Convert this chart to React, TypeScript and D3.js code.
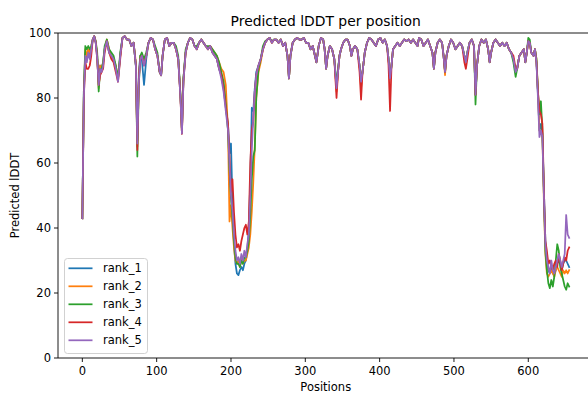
import React from "react";
import * as d3 from "d3";

const positions = [
  0, 2, 4, 6, 8, 10, 12, 14, 16, 18,
  20, 22, 24, 26, 28, 30, 33, 36, 39, 42,
  45, 48, 51, 54, 57, 60, 63, 66, 69, 72,
  74, 76, 78, 80, 83, 86, 89, 92, 95, 98,
  101, 104, 106, 108, 111, 114, 117, 120, 123, 126,
  129, 132, 134, 136, 139, 142, 145, 148, 151, 154,
  157, 160, 163, 166, 169, 172, 175, 178, 181, 184,
  187, 190, 193, 196, 198, 200, 202, 204, 206, 208,
  210, 212, 214, 216, 218, 220, 222, 224, 226, 228,
  230, 232, 234, 237, 240, 243, 246, 249, 252, 255,
  258, 261, 264, 267, 270, 273, 276, 278, 280, 283,
  286, 289, 292, 295, 298, 301, 304, 307, 310, 313,
  315, 318, 321, 324, 326, 328, 330, 333, 336, 339,
  342, 344, 346, 348, 351, 354, 357, 360, 362, 364,
  367, 370, 373, 375, 377, 380, 383, 386, 389, 392,
  395, 398, 401, 404, 407, 410, 412, 414, 416, 418,
  421, 424, 427, 430, 433, 436, 439, 442, 445, 448,
  451, 453, 456, 459, 462, 465, 468, 471, 473, 475,
  478, 481, 484, 486, 488, 490, 493, 496, 499, 502,
  505, 508, 511, 514, 516, 518, 521, 524, 527, 529,
  531, 534, 537, 540, 543, 546, 548, 550, 553, 556,
  559, 562, 565, 568, 571, 574, 577, 580, 583, 585,
  588, 591, 594, 596, 598, 600, 602, 604, 607, 609,
  611, 613, 615, 617, 619, 621, 623, 625, 627, 629,
  631, 633, 635, 637, 639, 641, 643, 645, 647, 649,
  651, 653, 655,
];

const rank_1 = [
  43, 82, 94, 92, 95, 93, 95, 98, 99, 97,
  93, 85, 90, 89, 91, 95, 97.5, 94, 93, 92,
  89, 86, 93, 98.5, 99, 98, 98, 96, 97, 90,
  67, 88, 93, 92, 84, 92, 97, 98.5, 98, 95,
  93, 88, 87, 93, 98, 98.5, 96, 97, 97, 95,
  92, 81, 70, 86, 94, 97, 98.5, 98, 96, 95,
  97, 98, 97, 96, 95, 96, 94, 93, 92, 89,
  87, 84, 78, 72, 63, 66, 48, 35, 29, 26,
  25.5, 27, 28, 27, 29, 30, 33, 40, 55, 77,
  76, 83, 88, 90, 92, 95, 97, 98, 98.5, 97,
  98, 98, 97, 98, 96, 97, 93, 86, 93, 97,
  98, 98.5, 98, 98, 98.5, 97, 97, 95, 96, 93,
  91, 96, 98.5, 98, 95, 89, 93, 96, 95, 92,
  83, 88, 93, 95, 97, 98, 98, 96, 93, 95,
  96, 95, 90, 85, 88, 94, 97, 98.5, 98, 97,
  96, 98, 98.5, 97, 98, 96, 92, 86, 90, 95,
  96, 97, 96, 97, 98, 97.5, 98, 97, 98, 97,
  96, 98.5, 98, 96, 97, 98, 96, 94, 89, 94,
  97, 98, 97, 93, 88, 93, 96, 98, 97, 95,
  96, 97, 96, 93, 91, 94, 97, 98, 96, 81,
  90, 96, 98, 97, 98, 95, 91, 94, 97, 98,
  97, 96, 97, 96, 97, 95, 94, 92, 88, 89,
  93, 94, 95, 91, 94, 97.5, 97, 94, 93, 95,
  91, 81, 70, 72, 69, 52, 36, 30, 27, 26,
  28, 26, 26, 27, 29, 30, 29, 27, 29, 30,
  30, 29, 28,
];

const rank_2 = [
  43, 81, 95, 93, 95, 94, 96, 98, 99, 97.5,
  93, 83, 90, 89, 91, 95, 98, 95, 93, 92,
  90, 86, 93, 98.5, 99, 98, 98, 96, 97, 91,
  65, 86, 93, 93, 91, 93, 97, 98.5, 98, 95,
  93, 88, 87, 93, 98, 98.5, 96, 97, 97, 95,
  92, 81, 69, 86, 94, 97, 98.5, 98, 96, 95,
  97, 98, 97, 96, 95, 96, 95, 94, 93, 91,
  89, 88, 84, 70, 42, 47, 40, 34, 30, 29,
  30, 28, 31, 29, 30, 30, 32, 34, 38, 45,
  54, 65, 80, 88, 91, 95, 97, 98, 98.5, 97,
  98, 98, 97, 98, 96, 97, 93, 86, 93, 97,
  98, 98.5, 98, 98, 98.5, 97, 97, 95, 96, 93,
  91, 96, 98.5, 98, 95, 89, 93, 96, 95, 92,
  82, 88, 93, 95, 97, 98, 98, 96, 93, 95,
  96, 95, 90, 83, 88, 94, 97, 98.5, 98, 97,
  96, 98, 98.5, 97, 98, 96, 92, 86, 90, 95,
  96, 97, 96, 97, 98, 97.5, 98, 97, 98, 97,
  96, 98.5, 98, 96, 97, 98, 96, 94, 89, 94,
  97, 98, 97, 93, 87, 93, 96, 98, 97, 95,
  96, 97, 96, 93, 91, 94, 97, 98, 96, 81,
  90, 96, 98, 97, 98, 95, 91, 94, 97, 98,
  97, 96, 97, 96, 97, 95, 94, 92, 88, 89,
  93, 94, 95, 91, 94, 97.5, 97, 94, 93, 95,
  92, 82, 70, 70, 68, 48, 32, 26, 25, 26,
  27, 26, 25, 27, 28, 27, 26, 25, 27, 26,
  27, 26, 27,
];

const rank_3 = [
  43, 82, 96, 95, 96, 95, 96, 98, 99, 97.5,
  94, 82, 89, 89, 91, 96, 98, 95, 94, 93,
  90, 86, 94, 98.5, 99, 98, 98, 96, 97, 90,
  62, 84, 93, 94, 92, 94, 97, 98.5, 98, 96,
  94, 88, 87, 93, 98, 98.5, 96, 97, 97, 96,
  93, 81, 70, 86, 95, 97, 98.5, 98, 96, 96,
  97, 98, 97, 96, 96, 96, 95, 94, 93, 91,
  88, 85, 78, 70, 58, 49, 43, 36, 31, 29,
  29, 28, 30, 29, 31, 31, 33, 36, 44, 55,
  62, 64, 80, 89, 92, 96, 97.5, 98, 98.5, 97.5,
  98, 98, 97, 98, 96, 97, 93, 86, 93, 97,
  98, 98.5, 98, 98, 98.5, 97, 97, 95, 96, 93,
  91, 96, 98.5, 98, 95, 89, 93, 96, 95, 92,
  84, 89, 93, 95, 97, 98, 98, 96, 93, 95,
  96, 95, 90, 85, 88, 94, 97, 98.5, 98, 97,
  96, 98, 98.5, 97, 98, 96, 92, 86, 90, 95,
  96, 97, 96, 97, 98, 97.5, 98, 97, 98, 97,
  96, 98.5, 98, 96, 97, 98, 96, 94, 89, 94,
  97, 98, 97, 93, 88, 93, 96, 98, 97, 95,
  96, 97, 96, 93, 91, 94, 97, 98, 96, 78,
  90, 96, 98, 97, 98, 95, 91, 94, 97, 98,
  97, 96, 97, 96, 97, 95, 94, 91, 86.5, 89,
  93, 94, 95, 91, 94, 98.5, 98, 94, 93, 95,
  92, 82, 75, 79, 70, 50, 33, 27, 23, 21.5,
  24, 22, 25, 30, 35, 33, 28, 26, 24, 22,
  21, 23, 22,
];

const rank_4 = [
  43, 80, 91, 89, 89, 90, 93, 98, 99, 97,
  92, 84, 87, 88, 89, 94, 97.5, 94, 92, 91,
  88, 85, 92, 98.5, 99, 98, 98, 96, 97, 90,
  64, 86, 92, 93, 90, 93, 97, 98.5, 98, 95,
  93, 88, 87, 93, 98, 98.5, 96, 97, 97, 95,
  92, 80, 69, 85, 94, 97, 98.5, 98, 96, 95,
  97, 98, 97, 96, 95, 96, 94, 93, 92, 89,
  87, 83, 77, 72, 62, 51, 55, 45, 38, 34,
  35, 33, 36, 38, 40, 41, 38, 42, 60, 70,
  73, 82, 87, 90, 92, 95, 97, 98, 98.5, 97,
  98, 98, 97, 98, 96, 97, 93, 86, 93, 97,
  98, 98.5, 98, 98, 98.5, 97, 97, 95, 96, 93,
  91, 96, 98.5, 98, 95, 89, 93, 96, 95, 92,
  80, 88, 93, 95, 97, 98, 98, 96, 93, 95,
  96, 95, 88, 79.5, 88, 94, 97, 98.5, 98, 97,
  96, 98, 98.5, 97, 98, 96, 90, 76, 90, 95,
  96, 97, 96, 97, 98, 97.5, 98, 97, 98, 97,
  96, 98.5, 98, 96, 97, 98, 96, 94, 89, 94,
  97, 98, 97, 93, 88, 93, 96, 98, 97, 95,
  96, 97, 96, 91, 89, 92, 97, 98, 96, 81,
  90, 96, 98, 97, 98, 95, 91, 94, 97, 98,
  97, 96, 97, 96, 97, 95, 94, 93, 89, 89,
  93, 94, 95, 91, 94, 97.5, 97, 94, 93, 95,
  91, 82, 76, 75, 72, 52, 36, 33, 29, 30,
  28, 27, 29, 30, 28, 32, 30, 27, 29, 31,
  30, 33, 34,
];

const rank_5 = [
  43, 80, 93, 91, 94, 92, 95, 98, 99, 97,
  92, 84, 89, 88, 90, 95, 97.5, 94, 93, 92,
  89, 85, 93, 98.5, 99, 98, 98, 96, 97, 90,
  66, 85, 92, 93, 90, 93, 97, 98.5, 98, 95,
  93, 88, 87, 93, 98, 98.5, 96, 97, 97, 95,
  92, 80, 69, 85, 94, 97, 98.5, 98, 96, 95,
  97, 98, 97, 96, 95, 96, 94, 93, 92, 89,
  86, 82, 76, 70, 60, 50, 45, 38, 33, 30,
  31, 29, 32, 30, 33, 31, 35, 38, 50, 64,
  74, 82, 87, 90, 92, 95, 97, 98, 98.5, 97,
  98, 98, 97, 98, 96, 97, 93, 86, 93, 97,
  98, 98.5, 98, 98, 98.5, 97, 97, 95, 96, 93,
  91, 96, 98.5, 98, 95, 89, 93, 96, 95, 92,
  83, 88, 93, 95, 97, 98, 98, 96, 93, 95,
  96, 95, 90, 85, 88, 94, 97, 98.5, 98, 97,
  96, 98, 98.5, 97, 98, 96, 92, 86, 90, 95,
  96, 97, 96, 97, 98, 97.5, 98, 97, 98, 97,
  96, 98.5, 98, 96, 97, 98, 96, 94, 89, 94,
  97, 98, 97, 93, 88, 93, 96, 98, 97, 95,
  96, 97, 96, 93, 91, 94, 97, 98, 96, 81,
  90, 96, 98, 97, 98, 95, 91, 94, 97, 98,
  97, 96, 97, 96, 97, 95, 94, 92, 88, 89,
  93, 94, 95, 91, 94, 97.5, 97, 94, 93, 95,
  91, 80, 68, 70, 68, 50, 35, 30, 28, 26,
  30, 27, 26, 28, 30, 32, 30, 28, 30, 32,
  44, 38, 37,
];

const seriesNames = ["rank_1", "rank_2", "rank_3", "rank_4", "rank_5"];
const seriesValues = [rank_1, rank_2, rank_3, rank_4, rank_5];
const colors = ["#1f77b4", "#ff7f0e", "#2ca02c", "#d62728", "#9467bd"];
const xTicks = [0, 100, 200, 300, 400, 500, 600];
const yTicks = [0, 20, 40, 60, 80, 100];

const W = 588;
const H = 393;
const L = 58;
const T = 33;
const R = 593.5;
const B = 358;
const FONT = "DejaVu Sans, sans-serif";

export default function App() {
  const x = d3.scaleLinear().domain([-32.75, 687.75]).range([L, R]);
  const y = d3.scaleLinear().domain([0, 100]).range([B, T]);
  const line = d3
    .line<[number, number]>()
    .x((d) => x(d[0]))
    .y((d) => y(d[1]));

  const legendX = 64.5;
  const legendY = 258.5;
  const rowH = 18;

  return (
    <svg
      width={W}
      height={H}
      style={{ position: "absolute", left: 0, top: 0, background: "#fff" }}
      fontFamily={FONT}
    >
      <rect x={0} y={0} width={W} height={H} fill="#fff" />
      <defs>
        <clipPath id="plotclip">
          <rect x={L} y={T} width={R - L} height={B - T} />
        </clipPath>
      </defs>
      <g clipPath="url(#plotclip)">
        {seriesValues.map((vals, si) => {
          const pts: [number, number][] = [];
          const n = Math.min(vals.length, positions.length);
          for (let i = 0; i < n; i++) pts.push([positions[i], vals[i]]);
          return (
            <path
              key={si}
              d={line(pts) || ""}
              fill="none"
              stroke={colors[si]}
              strokeWidth={1.75}
              strokeLinejoin="round"
              strokeLinecap="square"
            />
          );
        })}
      </g>
      {/* spines */}
      <line x1={L} y1={T} x2={L} y2={B} stroke="#000" strokeWidth={0.9} />
      <line x1={L} y1={T} x2={R} y2={T} stroke="#000" strokeWidth={0.9} />
      <line x1={L} y1={B} x2={R} y2={B} stroke="#000" strokeWidth={0.9} />
      <line x1={R} y1={T} x2={R} y2={B} stroke="#000" strokeWidth={0.9} />
      {/* x ticks */}
      {xTicks.map((t) => (
        <g key={"x" + t}>
          <line x1={x(t)} x2={x(t)} y1={B} y2={B + 4} stroke="#000" strokeWidth={0.9} />
          <text x={x(t)} y={B + 17} fontSize={11.5} textAnchor="middle" fill="#000">
            {t}
          </text>
        </g>
      ))}
      {/* y ticks */}
      {yTicks.map((t) => (
        <g key={"y" + t}>
          <line x1={L - 4} x2={L} y1={y(t)} y2={y(t)} stroke="#000" strokeWidth={0.9} />
          <text x={L - 7} y={y(t) + 4.1} fontSize={11.5} textAnchor="end" fill="#000">
            {t}
          </text>
        </g>
      ))}
      <text x={(L + R) / 2} y={26} fontSize={13.9} textAnchor="middle" fill="#000">
        Predicted lDDT per position
      </text>
      <text x={(L + R) / 2} y={390.5} fontSize={11.5} textAnchor="middle" fill="#000">
        Positions
      </text>
      <text
        transform={`translate(19, ${(T + B) / 2}) rotate(-90)`}
        fontSize={11.5}
        textAnchor="middle"
        fill="#000"
      >
        Predicted lDDT
      </text>
      {/* legend */}
      <rect
        x={legendX}
        y={legendY}
        width={83}
        height={95}
        rx={3}
        fill="#fff"
        fillOpacity={0.8}
        stroke="#cccccc"
        strokeWidth={0.9}
      />
      {seriesNames.map((name, i) => {
        const cy = 268.3 + i * rowH;
        return (
          <g key={name}>
            <line x1={68.5} x2={92.5} y1={cy} y2={cy} stroke={colors[i]} strokeWidth={1.75} />
            <text x={103} y={cy + 4.1} fontSize={11.5} fill="#000">
              {name}
            </text>
          </g>
        );
      })}
    </svg>
  );
}
